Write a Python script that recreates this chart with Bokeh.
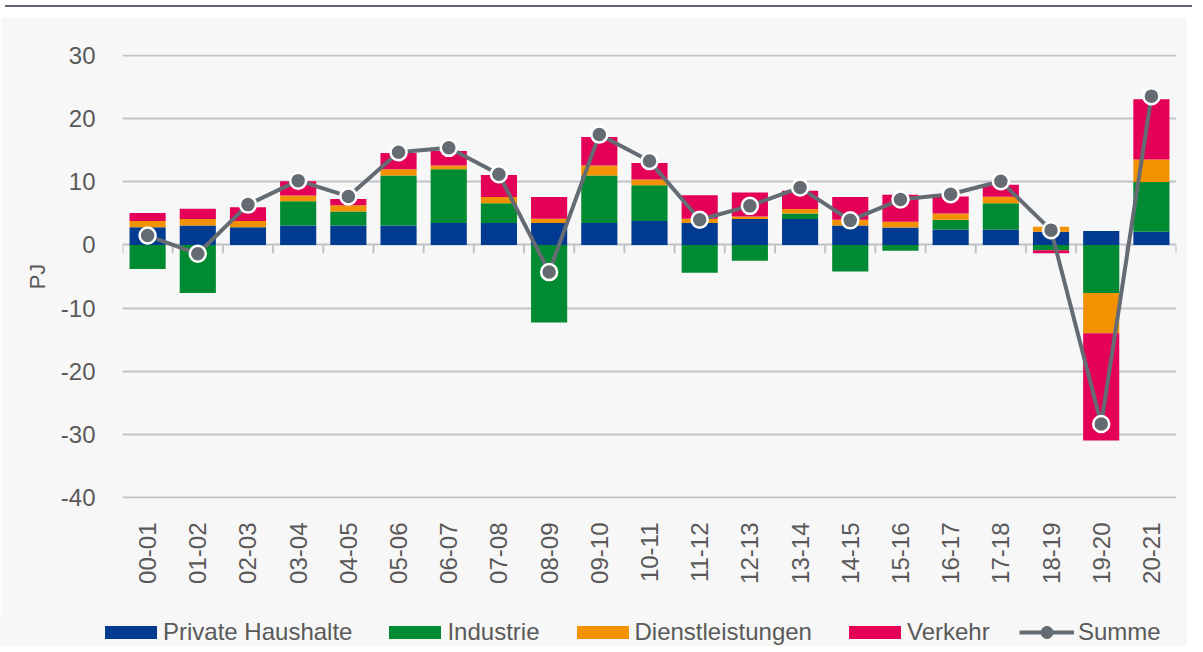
from bokeh.plotting import figure
from bokeh.models import (Range1d, FixedTicker, ColumnDataSource, Legend,
                          LegendItem, Div)
from bokeh.layouts import column
from bokeh.embed import file_html
from bokeh.resources import INLINE
import math

# ---------------- data ----------------
categories = ["00-01", "01-02", "02-03", "03-04", "04-05", "05-06", "06-07",
              "07-08", "08-09", "09-10", "10-11", "11-12", "12-13", "13-14",
              "14-15", "15-16", "16-17", "17-18", "18-19", "19-20", "20-21"]
private_haushalte = [2.8, 3.1, 2.8, 3.1, 3.1, 3.1, 3.5, 3.5, 3.5, 3.5, 3.8,
                     3.5, 4.1, 4.1, 3.1, 2.75, 2.45, 2.45, 2.1, 2.2, 2.1]
industrie = [-3.8, -7.6, 0.0, 3.85, 2.2, 7.9, 8.5, 3.1, -12.3, 7.5, 5.65,
             -4.4, -2.5, 0.9, -4.2, -0.9, 1.55, 4.15, -0.85, -7.6, 7.9]
dienstleistungen = [1.0, 1.0, 1.0, 0.9, 1.0, 1.0, 0.6, 1.0, 0.65, 1.6, 0.95,
                    0.65, 0.4, 0.7, 0.9, 0.95, 1.0, 1.05, 0.8, -6.4, 3.55]
verkehr = [1.25, 1.65, 2.2, 2.25, 1.0, 2.6, 2.3, 3.5, 3.45, 4.5, 2.6,
           3.75, 3.8, 2.9, 3.6, 4.25, 2.7, 1.9, -0.45, -17.0, 9.55]
summe = [1.5, -1.4, 6.4, 10.2, 7.7, 14.7, 15.4, 11.2, -4.3, 17.5, 13.3,
         4.0, 6.2, 9.1, 3.9, 7.2, 8.05, 10.1, 2.35, -28.4, 23.6]
y_ticks = [-40, -30, -20, -10, 0, 10, 20, 30]
series_names = ["Private Haushalte", "Industrie", "Dienstleistungen", "Verkehr"]
summe_name = "Summe"

# ---------------- styles ----------------
BLUE, GREEN, ORANGE, RED = "#003b91", "#008a32", "#f39200", "#e30056"
COLORS = [BLUE, GREEN, ORANGE, RED]
GREY_LINE = "#646b73"
GRID = "#bfc3c7"
TEXT = "#595959"
FONT = "Liberation Sans"
BG = "#f7f7f7"
W = 1187

n = len(categories)
xs = list(range(n))
src = ColumnDataSource(dict(
    x=xs,
    ph_pos=[max(v, 0) for v in private_haushalte],
    ph_neg=[min(v, 0) for v in private_haushalte],
    ind_pos=[max(v, 0) for v in industrie],
    ind_neg=[min(v, 0) for v in industrie],
    dl_pos=[max(v, 0) for v in dienstleistungen],
    dl_neg=[min(v, 0) for v in dienstleistungen],
    vk_pos=[max(v, 0) for v in verkehr],
    vk_neg=[min(v, 0) for v in verkehr],
    summe=summe,
))

p = figure(width=W, height=595, output_backend="svg", toolbar_location=None,
           x_range=Range1d(-0.5, n - 0.5), y_range=Range1d(-40.2, 30.2),
           min_border_left=122, min_border_right=11,
           min_border_top=37, min_border_bottom=114)
p.frame_align = False
p.background_fill_color = BG
p.border_fill_color = BG
p.outline_line_color = None

# grid
p.xgrid.visible = False
p.ygrid.ticker = FixedTicker(ticks=y_ticks)
p.ygrid.grid_line_color = GRID
p.ygrid.grid_line_width = 2

# axes
p.yaxis.ticker = FixedTicker(ticks=y_ticks)
p.yaxis.major_label_overrides = {t: str(t) for t in y_ticks}
p.yaxis.axis_line_color = None
p.yaxis.major_tick_line_color = None
p.yaxis.minor_tick_line_color = None
p.yaxis.major_label_standoff = 21
p.yaxis.major_label_text_font = FONT
p.yaxis.major_label_text_font_size = "24px"
p.yaxis.major_label_text_color = TEXT
p.yaxis.axis_label = "PJ"
p.yaxis.axis_label_text_font = FONT
p.yaxis.axis_label_text_font_size = "22px"
p.yaxis.axis_label_text_font_style = "normal"
p.yaxis.axis_label_text_color = TEXT
p.yaxis.axis_label_standoff = 8

p.xaxis.ticker = FixedTicker(ticks=xs)
p.xaxis.major_label_overrides = {i: c for i, c in enumerate(categories)}
p.xaxis.major_label_orientation = math.pi / 2
p.xaxis.axis_line_color = None
p.xaxis.major_tick_line_color = None
p.xaxis.minor_tick_line_color = None
p.xaxis.major_label_standoff = 18
p.xaxis.major_label_text_font = FONT
p.xaxis.major_label_text_font_size = "24px"
p.xaxis.major_label_text_color = TEXT

# bars
pos = p.vbar_stack(["ph_pos", "ind_pos", "dl_pos", "vk_pos"], x="x", width=0.72,
                   color=COLORS, line_color=None, source=src)
neg = p.vbar_stack(["ind_neg", "dl_neg", "vk_neg", "ph_neg"], x="x", width=0.72,
                   color=[GREEN, ORANGE, RED, BLUE], line_color=None, source=src)

# zero-line category ticks
bounds = [i - 0.5 for i in range(n + 1)]
p.segment(x0=bounds, y0=[0] * len(bounds), x1=bounds, y1=[-1.3] * len(bounds),
          line_color=GRID, line_width=2)

# Summe line
p.line("x", "summe", source=src, line_color=GREY_LINE, line_width=4)
p.scatter("x", "summe", source=src, size=16, fill_color=GREY_LINE,
          line_color="white", line_width=2.5)

# ---------------- legend strip ----------------
lg = figure(width=W, height=34, output_backend="svg", toolbar_location=None,
            x_axis_type=None, y_axis_type=None,
            x_range=Range1d(0, 1), y_range=Range1d(0, 1),
            min_border=0)
lg.frame_align = False
lg.background_fill_color = BG
lg.border_fill_color = BG
lg.outline_line_color = None
lg.grid.visible = False

# legend-only helper renderers (their single point lies outside the view)
hidden = ColumnDataSource(dict(x=[-10], y=[-10], top=[-10]))
bar_renderers = [lg.vbar(x="x", top="top", width=0.5, source=hidden,
                         fill_color=c, line_color=None) for c in COLORS]
lg_line = lg.line("x", "y", source=hidden, line_color=GREY_LINE, line_width=4)
lg_dot = lg.scatter("x", "y", source=hidden, size=11, fill_color=GREY_LINE,
                    line_color=GREY_LINE)

legend_style = dict(orientation="horizontal", padding=0, margin=0,
                    border_line_color=None, background_fill_alpha=0,
                    label_text_font=FONT, label_text_font_size="24px",
                    label_text_color=TEXT)

items = [LegendItem(label=name, renderers=[r])
         for name, r in zip(series_names, bar_renderers)]
legend = Legend(items=items, location=(98, 0), glyph_width=65, glyph_height=16,
                label_standoff=-3, spacing=30, **legend_style)
lg.add_layout(legend, "center")

legend2 = Legend(items=[LegendItem(label=summe_name, renderers=[lg_line, lg_dot])],
                 location=(1019, -1), glyph_width=55, glyph_height=30,
                 label_standoff=4, **legend_style)
lg.add_layout(legend2, "center")

top = Div(text="", width=W, height=7,
          styles={"border-top": "2px solid #5f6670", "box-sizing": "border-box",
                  "background": "white"})

layout = column(top, p, lg, spacing=0)
open("out.html", "w").write(file_html(layout, INLINE))
